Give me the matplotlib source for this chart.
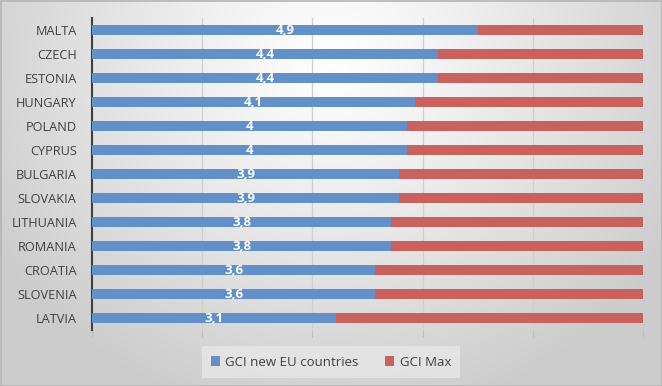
import numpy as np
import matplotlib.pyplot as plt
from matplotlib.patches import Rectangle

countries = ["MALTA", "CZECH", "ESTONIA", "HUNGARY", "POLAND", "CYPRUS", "BULGARIA",
             "SLOVAKIA", "LITHUANIA", "ROMANIA", "CROATIA", "SLOVENIA", "LATVIA"]
gci_new = [4.9, 4.4, 4.4, 4.1, 4.0, 4.0, 3.9, 3.9, 3.8, 3.8, 3.6, 3.6, 3.1]
gci_max = 7.0
gci_gap = [gci_max - v for v in gci_new]
labels = ["4,9", "4,4", "4,4", "4,1", "4", "4", "3,9", "3,9", "3,8", "3,8", "3,6", "3,6", "3,1"]

W, H = 662, 386
fig = plt.figure(figsize=(W / 100, H / 100), dpi=100)

# radial gradient background
bg = fig.add_axes([0, 0, 1, 1], zorder=-10)
yy, xx = np.mgrid[0:H, 0:W]
cx, cy = W * 0.5, H * 0.15
r = np.sqrt(((xx - cx) / (W * 0.6)) ** 2 + ((yy - cy) / (H * 0.95)) ** 2)
v = np.clip(1.0 - 0.20 * np.clip(r, 0, 1) ** 1.1, 0, 1)
img = np.dstack([v, v, v])
bg.imshow(img, aspect='auto', extent=[0, W, H, 0])
bg.add_patch(Rectangle((0.5, 0.5), W - 1, H - 1, fill=False, edgecolor='#b4b4b4', lw=1.2))
bg.set_xlim(0, W); bg.set_ylim(H, 0)
bg.axis('off')

ax = fig.add_axes([92 / W, 1 - 330 / H, (643 - 92) / W, (330 - 18) / H])
ax.patch.set_alpha(0)

blue = '#6390C8'
red = '#C9625F'
n = len(countries)
y = np.arange(n)
h = 0.44
totals = np.array(gci_new) + np.array(gci_gap)
bfrac = np.array(gci_new) / totals
rfrac = np.array(gci_gap) / totals
ax.barh(y, bfrac, height=h, color=blue, label='GCI new EU countries', zorder=3)
ax.barh(y, rfrac, left=bfrac, height=h, color=red, label='GCI Max', zorder=3)
for yi, bf, lab in zip(y, bfrac, labels):
    ax.text(bf / 2, yi, lab, ha='center', va='center', color='white', fontsize=9.5,
            fontfamily='Open Sans', fontweight='bold', zorder=4)

ax.set_ylim(n - 0.5, -0.5)
ax.set_xlim(0, 1)
ax.set_yticks(y)
ax.set_yticklabels(countries, fontsize=9.2, color='#404040', fontfamily='Open Sans')
ax.tick_params(axis='y', length=0, pad=11)
ax.set_xticks(np.linspace(0, 1, 6))
ax.set_xticklabels([])
ax.tick_params(axis='x', length=5, color='#bfbfbf', direction='out')
ax.grid(axis='x', color='#cfcfcf', lw=0.9, zorder=0)
for s in ['top', 'right', 'bottom']:
    ax.spines[s].set_visible(False)
ax.spines['left'].set_color('#404040')
ax.spines['left'].set_linewidth(1.5)

leg = ax.legend(loc='center', bbox_to_anchor=(0.5, 1 - 362 / H),
                bbox_transform=fig.transFigure, ncol=2, frameon=True, fancybox=False,
                prop={'family': 'Open Sans', 'size': 9.5}, handlelength=0.7, handleheight=0.7,
                columnspacing=2.0, handletextpad=0.4, borderpad=0.7)
leg.get_frame().set_facecolor('#e6e6e6')
leg.get_frame().set_edgecolor('none')
leg.get_frame().set_alpha(0.85)
for t in leg.get_texts():
    t.set_color('#404040')

fig.savefig('out.png', dpi=100)
